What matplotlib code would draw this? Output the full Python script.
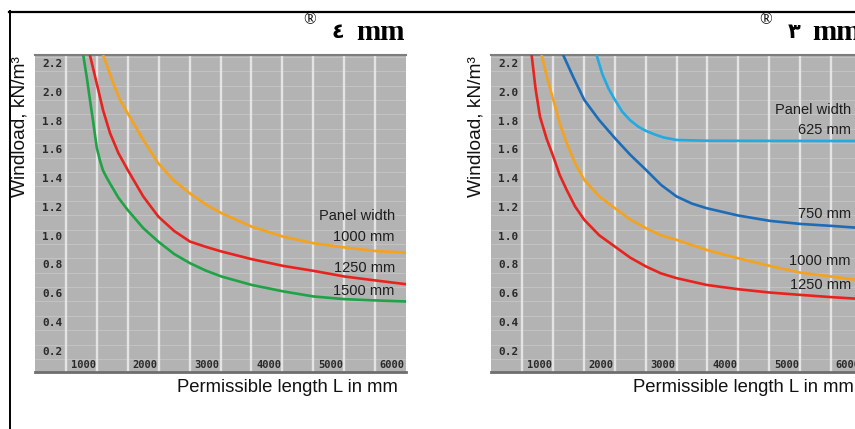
import numpy as np
import matplotlib.pyplot as plt
from matplotlib.lines import Line2D

# ---- data (length L in mm, windload in kN/m3) ----
# left panel (4 mm)
l_orange_x = [1105, 1266, 1375, 1536, 1752, 1994, 2237, 2507, 2777, 3019, 3504, 4016, 4501, 5013, 5526, 6000]
l_orange_y = [2.26, 2.066, 1.95, 1.83, 1.672, 1.51, 1.394, 1.30, 1.22, 1.163, 1.07, 1.00, 0.955, 0.925, 0.90, 0.89]
l_red_x = [889, 998, 1100, 1213, 1350, 1499, 1750, 1994, 2250, 2507, 2760, 3019, 3504, 4016, 4501, 5013, 5526, 6000]
l_red_y = [2.26, 2.066, 1.88, 1.72, 1.58, 1.464, 1.28, 1.14, 1.04, 0.966, 0.93, 0.897, 0.844, 0.797, 0.763, 0.723, 0.695, 0.67]
l_green_x = [781, 840, 889, 940, 998, 1050, 1100, 1160, 1213, 1350, 1499, 1750, 1994, 2250, 2507, 2760, 3019, 3504, 4016, 4501, 5013, 5526, 6000]
l_green_y = [2.26, 2.10, 1.95, 1.80, 1.62, 1.53, 1.46, 1.41, 1.37, 1.27, 1.186, 1.06, 0.966, 0.88, 0.816, 0.765, 0.723, 0.665, 0.62, 0.585, 0.566, 0.557, 0.55]

# right panel (3 mm)
r_lblue_x = [1709, 1800, 1900, 2005, 2120, 2248, 2380, 2507, 2650, 2787, 3003, 3488, 4500, 6000]
r_lblue_y = [2.26, 2.13, 2.03, 1.95, 1.87, 1.81, 1.765, 1.735, 1.71, 1.69, 1.672, 1.667, 1.666, 1.665]
r_dblue_x = [1170, 1340, 1509, 1750, 2005, 2250, 2507, 2750, 3003, 3250, 3488, 4000, 4512, 4997, 5510, 6000]
r_dblue_y = [2.26, 2.10, 1.95, 1.81, 1.684, 1.57, 1.464, 1.36, 1.279, 1.23, 1.198, 1.147, 1.11, 1.089, 1.075, 1.06]
r_orange_x = [820, 910, 1008, 1110, 1224, 1360, 1509, 1750, 2005, 2250, 2507, 2750, 3003, 3488, 4000, 4512, 4997, 5510, 6000]
r_orange_y = [2.26, 2.10, 1.95, 1.79, 1.65, 1.51, 1.394, 1.28, 1.198, 1.12, 1.059, 1.01, 0.978, 0.908, 0.85, 0.797, 0.751, 0.723, 0.695]
r_red_x = [658, 720, 792, 900, 1008, 1110, 1224, 1360, 1509, 1750, 2005, 2250, 2507, 2750, 3003, 3488, 4000, 4512, 4997, 5510, 6000]
r_red_y = [2.26, 2.03, 1.834, 1.68, 1.556, 1.43, 1.325, 1.21, 1.117, 1.01, 0.931, 0.855, 0.793, 0.745, 0.712, 0.665, 0.635, 0.612, 0.596, 0.58, 0.567]

x_ticks = [1000, 2000, 3000, 4000, 5000, 6000]
y_ticks = [0.2, 0.4, 0.6, 0.8, 1.0, 1.2, 1.4, 1.6, 1.8, 2.0, 2.2]

left_labels = [("Panel width", 1.145), ("1000 mm", 1.0), ("1250 mm", 0.78), ("1500 mm", 0.62)]
right_labels = [("Panel width", 1.88), ("625 mm", 1.74), ("750 mm", 1.156),
                ("1000 mm", 0.834), ("1250 mm", 0.665)]

ORANGE = '#f5a21c'
RED = '#e8231e'
GREEN = '#1ea345'
DBLUE = '#1d6cb8'
LBLUE = '#22aae2'

W, H = 855, 429
sans = 'Liberation Sans'
fig = plt.figure(figsize=(W / 100, H / 100), dpi=100)


def make_panel(left_px, series, labels, title_digit):
    ax = fig.add_axes([left_px / W, (H - 372) / H, 371 / W, 317 / H])
    ax.set_facecolor('#b3b3b3')
    ax.set_xlim(0, 6000)
    ax.set_ylim(0.06, 2.2625)
    for xv in np.arange(500, 6000, 500):
        ax.axvline(xv, color='#e4e4e4', lw=1.7, zorder=1)
    for yv in np.arange(0.15, 2.3, 0.1):
        ax.axhline(yv, color='#c2c2c2', lw=0.8, zorder=0.9)
    for xs, ys, c in series:
        ax.plot(xs, ys, color=c, lw=1.9, zorder=3, solid_joinstyle='round')
    ax.set_xticks([])
    ax.set_yticks([])
    for s in ['left', 'right']:
        ax.spines[s].set_visible(False)
    ax.spines['top'].set_color('#7d7d7d')
    ax.spines['top'].set_linewidth(1.5)
    ax.spines['bottom'].set_color('#6e6e6e')
    ax.spines['bottom'].set_linewidth(2.0)
    # tick labels drawn inside the plot area
    for yv in y_ticks:
        ax.text(120, yv, f'{yv:.1f}', fontsize=8, family='DejaVu Sans Mono',
                fontweight='bold', color='#2a2a2a', va='center', ha='left', zorder=4)
    for xv in x_ticks:
        ax.text(xv - 20, 0.075, str(xv), fontsize=7.5, family='DejaVu Sans Mono',
                fontweight='bold', color='#2a2a2a', va='bottom', ha='right', zorder=4)
    for txt, yv in labels:
        ax.text(5820, yv, txt, fontsize=10.5, family=sans, color='#1e1e1e',
                ha='right', va='center', zorder=5)
    # axis titles
    fig.text((left_px + 363) / W, (H - 387) / H, 'Permissible length L in mm',
             fontsize=13.3, family=sans, color='#111111', ha='right', va='center')
    fig.text((left_px - 15) / W, (H - 127) / H, 'Windload, kN/m³', rotation=90,
             fontsize=13.8, family=sans, color='#111111', ha='center', va='center')
    # header
    fig.text((left_px + 370) / W, (H - 32) / H, 'mm', fontsize=21,
             family='Liberation Serif', fontweight='bold', ha='right', va='center')
    fig.text((left_px + 303) / W, (H - 32) / H, title_digit, fontsize=15,
             family=['DejaVu Sans'], fontweight='bold', ha='center', va='center')
    fig.text((left_px + 275) / W, (H - 20) / H, '®', fontsize=12,
             family='Liberation Serif', ha='center', va='center')
    return ax


make_panel(35, [(l_orange_x, l_orange_y, ORANGE), (l_red_x, l_red_y, RED),
                (l_green_x, l_green_y, GREEN)], left_labels, '٤')
make_panel(491, [(r_lblue_x, r_lblue_y, LBLUE), (r_dblue_x, r_dblue_y, DBLUE),
                 (r_orange_x, r_orange_y, ORANGE), (r_red_x, r_red_y, RED)],
           right_labels, '٣')

# table-like border lines
fig.add_artist(Line2D([9.5 / W, 9.5 / W], [0, (H - 11) / H], color='black', lw=1.4))
fig.add_artist(Line2D([9 / W, 1], [(H - 11.5) / H, (H - 11.5) / H], color='black', lw=1.6))

fig.savefig('out.png', dpi=100)
